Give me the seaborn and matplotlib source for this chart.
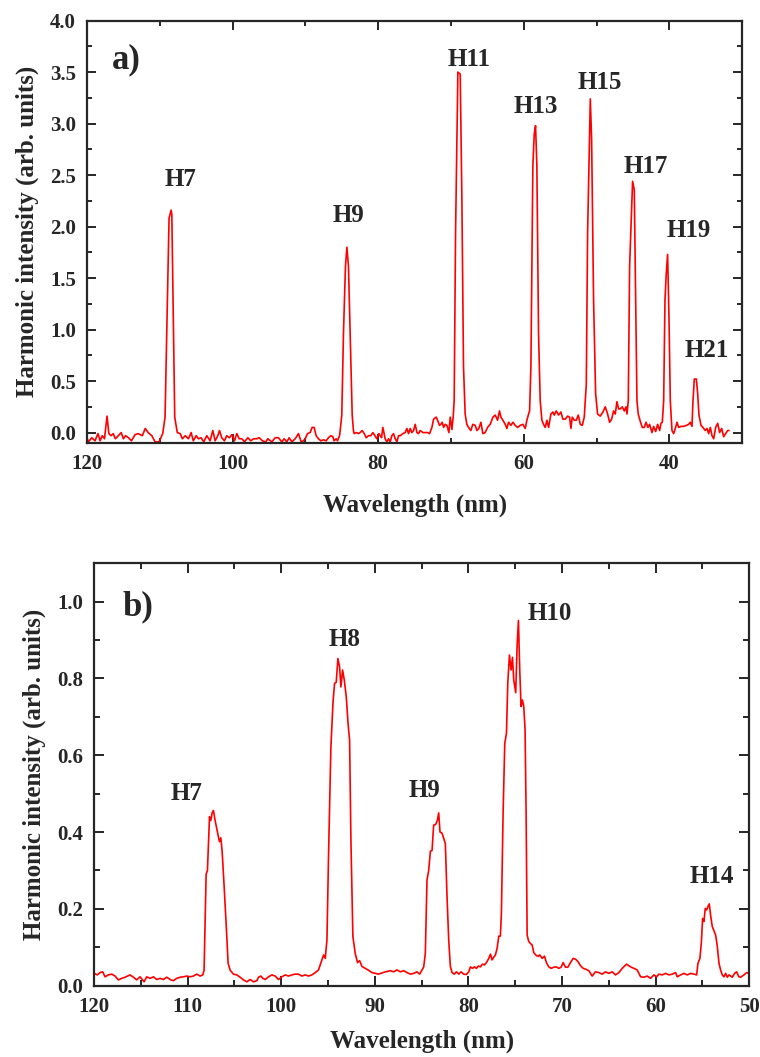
import matplotlib
matplotlib.use('Agg')
import matplotlib.pyplot as plt
from matplotlib.ticker import MultipleLocator
import pandas as pd
import seaborn as sns

# ---- panel a: spectrum 1 (wavelength in nm, intensity in arb. units) ----
wl_a = [120.0, 119.8, 119.35, 118.9, 118.5, 118.2, 117.9, 117.6, 117.25, 117.0,
        116.7, 116.4, 116.1, 115.7, 115.3, 115.0, 114.7, 114.3, 113.9, 113.4,
        113.0, 112.4, 112.0, 111.6, 111.1, 110.65, 110.1, 109.6, 109.28, 108.73,
        108.45, 108.35, 107.95, 107.6, 107.2, 106.9, 106.5, 106.07, 105.7, 105.4,
        105.0, 104.7, 104.33, 103.96, 103.55, 103.09, 102.72, 102.4, 102.03, 101.8,
        101.5, 101.12, 100.8, 100.43, 100.1, 99.74, 99.42, 99.1, 98.74, 98.37,
        97.91, 97.5, 97.13, 96.67, 96.35, 95.9, 95.44, 95.16, 94.61, 94.15,
        93.7, 93.24, 92.92, 92.55, 92.23, 91.86, 91.4, 90.95, 90.58, 90.26,
        90.03, 89.71, 89.35, 89.07, 88.8, 88.52, 88.2, 87.88, 87.51, 87.15,
        86.83, 86.5, 86.23, 86.05, 85.77, 85.59, 85.31, 85.22, 85.0, 84.77,
        84.5, 84.3, 84.08, 83.85, 83.57, 83.4, 83.3, 83.02, 82.7, 82.47,
        82.2, 81.92, 81.65, 81.33, 81.0, 80.73, 80.46, 80.18, 79.91, 79.72,
        79.54, 79.36, 79.04, 78.81, 78.58, 78.35, 78.12, 77.89, 77.66, 77.43,
        77.2, 76.97, 76.61, 76.29, 76.06, 75.83, 75.6, 75.37, 75.14, 74.91,
        74.68, 74.45, 74.23, 73.86, 73.54, 73.22, 72.94, 72.62, 72.39, 72.03,
        71.84, 71.57, 71.39, 71.2, 71.02, 70.79, 70.56, 70.29, 70.1, 69.87,
        69.7, 69.56, 69.37, 69.05, 68.73, 68.5, 68.28, 68.05, 67.82, 67.59,
        67.27, 67.0, 66.67, 66.44, 66.17, 65.89, 65.62, 65.3, 64.98, 64.61,
        64.24, 63.92, 63.6, 63.33, 63.14, 62.87, 62.55, 62.32, 62.09, 61.77,
        61.49, 61.17, 60.85, 60.49, 60.12, 59.8, 59.57, 59.34, 59.2, 59.02,
        58.75, 58.56, 58.38, 58.2, 57.97, 57.74, 57.51, 57.28, 57.05, 56.82,
        56.59, 56.27, 56.0, 55.81, 55.54, 55.22, 54.9, 54.62, 54.3, 53.98,
        53.71, 53.52, 53.34, 53.06, 52.79, 52.51, 52.24, 51.96, 51.69, 51.41,
        51.23, 50.86, 50.68, 50.41, 50.13, 49.86, 49.49, 49.12, 48.8, 48.48,
        48.21, 47.93, 47.66, 47.43, 47.2, 46.97, 46.74, 46.47, 46.19, 45.96,
        45.82, 45.64, 45.46, 45.05, 44.82, 44.63, 44.45, 44.27, 44.0, 43.72,
        43.44, 43.21, 42.94, 42.71, 42.39, 42.16, 41.88, 41.61, 41.33, 41.15,
        40.97, 40.78, 40.6, 40.42, 40.24, 40.05, 39.87, 39.64, 39.41, 39.18,
        38.95, 38.72, 38.4, 38.04, 37.67, 37.35, 37.12, 36.89, 36.75, 36.57,
        36.29, 36.11, 35.93, 35.65, 35.38, 35.06, 34.83, 34.6, 34.37, 34.14,
        33.91, 33.64, 33.36, 33.09, 32.81, 32.54, 32.26, 31.99, 31.8]
int_a = [-0.05, -0.09, -0.05, -0.08, -0.01, -0.08, -0.03, -0.06, 0.16, -0.01,
         -0.03, -0.01, -0.06, -0.03, 0.0, -0.06, -0.03, -0.05, -0.08, -0.02,
         -0.01, -0.03, 0.04, 0.0, -0.03, -0.09, -0.09, -0.01, 0.15, 2.08,
         2.16, 2.12, 0.15, 0.0, -0.01, -0.06, -0.03, -0.06, 0.0, -0.08,
         -0.03, -0.06, -0.05, -0.09, -0.03, -0.08, 0.02, -0.08, -0.03, 0.02,
         -0.05, -0.08, -0.03, -0.05, -0.02, -0.08, -0.01, -0.06, -0.06, -0.09,
         -0.05, -0.08, -0.06, -0.06, -0.05, -0.08, -0.09, -0.06, -0.09, -0.05,
         -0.05, -0.09, -0.06, -0.09, -0.05, -0.09, -0.06, -0.01, -0.09, -0.08,
         -0.06, -0.01, 0.0, 0.05, 0.05, -0.03, -0.06, -0.08, -0.07, -0.08,
         -0.05, -0.03, -0.04, -0.08, -0.06, -0.08, -0.03, 0.02, 0.17, 0.96,
         1.61, 1.8, 1.61, 0.96, 0.17, 0.02, -0.01, 0.0, -0.01, 0.0,
         0.02, -0.01, -0.05, -0.03, -0.03, 0.0, -0.03, -0.06, -0.01, -0.03,
         -0.05, 0.05, -0.06, -0.09, -0.06, -0.09, -0.03, -0.01, -0.06, -0.09,
         -0.03, -0.03, -0.01, 0.0, 0.04, -0.01, 0.04, 0.0, 0.02, 0.08,
         0.0, -0.01, 0.02, 0.0, 0.0, 0.0, -0.01, 0.05, 0.13, 0.15,
         0.12, 0.07, 0.08, 0.1, 0.05, 0.08, 0.07, 0.0, 0.15, 0.03,
         0.15, 0.31, 1.94, 3.5, 3.48, 2.26, 0.64, 0.18, 0.08, 0.05,
         0.02, 0.08, 0.07, 0.02, 0.04, 0.1, -0.01, 0.0, 0.05, 0.08,
         0.15, 0.17, 0.12, 0.21, 0.15, 0.12, 0.08, 0.04, 0.1, 0.07,
         0.1, 0.07, 0.05, 0.07, 0.08, 0.04, 0.12, 0.18, 0.21, 0.64,
         2.59, 2.9, 2.98, 2.59, 0.96, 0.31, 0.12, 0.08, 0.05, 0.12,
         0.05, 0.18, 0.2, 0.17, 0.21, 0.17, 0.2, 0.13, 0.13, 0.16,
         0.15, 0.04, 0.15, 0.12, 0.12, 0.17, 0.08, 0.07, 0.15, 0.47,
         1.94, 3.24, 2.85, 1.29, 0.38, 0.18, 0.16, 0.2, 0.25, 0.18,
         0.1, 0.13, 0.21, 0.18, 0.3, 0.23, 0.23, 0.25, 0.21, 0.25,
         0.18, 0.31, 1.61, 2.44, 2.36, 1.29, 0.31, 0.18, 0.11, 0.05,
         0.05, 0.1, 0.05, 0.08, 0.0, 0.06, 0.01, 0.08, 0.02, 0.09,
         0.1, 0.31, 1.29, 1.55, 1.73, 1.12, 0.31, 0.02, -0.01, 0.04,
         0.1, 0.05, 0.06, 0.06, 0.07, 0.08, 0.1, 0.06, 0.31, 0.52,
         0.52, 0.38, 0.17, 0.07, 0.05, 0.02, 0.04, -0.01, 0.05, -0.03,
         -0.06, 0.05, 0.09, 0.0, 0.04, -0.04, -0.01, 0.02, 0.02]

labels_a = ['H7', 'H9', 'H11', 'H13', 'H15', 'H17', 'H19', 'H21']
label_x_a = [107.2, 84.1, 67.5, 58.4, 49.5, 43.2, 37.4, 34.9]
label_y_a = [2.39, 2.04, 3.56, 3.10, 3.34, 2.52, 1.90, 0.73]

# ---- panel b: spectrum 2 ----
wl_b = [120.0, 119.64, 119.36, 119.07, 118.82, 118.47, 118.11, 117.75, 117.4, 117.04,
        116.68, 116.15, 115.79, 115.44, 115.08, 114.65, 114.37, 114.01, 113.65, 113.3,
        112.94, 112.58, 112.23, 111.8, 111.52, 111.16, 110.8, 110.45, 110.09, 109.73,
        109.38, 109.02, 108.66, 108.38, 108.24, 108.02, 107.88, 107.66, 107.52, 107.38,
        107.24, 107.06, 106.81, 106.6, 106.45, 106.31, 106.1, 105.88, 105.67, 105.45,
        105.1, 104.74, 104.39, 104.03, 103.67, 103.32, 102.96, 102.6, 102.42, 102.17,
        101.96, 101.71, 101.35, 101.0, 100.64, 100.29, 99.93, 99.57, 99.22, 98.86,
        98.5, 98.15, 97.79, 97.43, 97.08, 96.72, 96.36, 96.01, 95.65, 95.47,
        95.29, 95.11, 94.94, 94.69, 94.47, 94.3, 94.12, 93.94, 93.76, 93.62,
        93.44, 93.26, 93.05, 92.83, 92.69, 92.55, 92.34, 92.09, 91.84, 91.62,
        91.37, 91.02, 90.66, 90.3, 89.95, 89.6, 89.0, 88.34, 87.98, 87.63,
        87.27, 86.91, 86.56, 86.2, 85.84, 85.49, 85.2, 84.95, 84.77, 84.6,
        84.42, 84.24, 84.06, 83.88, 83.71, 83.49, 83.31, 83.17, 83.03, 82.81,
        82.64, 82.46, 82.28, 82.1, 81.92, 81.74, 81.5, 81.28, 81.03, 80.78,
        80.5, 80.21, 79.96, 79.78, 79.57, 79.36, 79.14, 78.93, 78.71, 78.5,
        78.29, 78.07, 77.82, 77.64, 77.47, 77.29, 77.11, 76.93, 76.75, 76.58,
        76.47, 76.29, 76.11, 75.93, 75.79, 75.61, 75.43, 75.29, 75.15, 74.94,
        74.79, 74.65, 74.51, 74.37, 74.22, 74.08, 73.94, 73.83, 73.72, 73.55,
        73.37, 73.19, 73.01, 72.8, 72.58, 72.37, 72.12, 71.87, 71.66, 71.41,
        71.16, 70.87, 70.59, 70.34, 70.09, 69.87, 69.62, 69.37, 69.09, 68.8,
        68.55, 68.3, 68.02, 67.73, 67.48, 67.13, 66.77, 66.42, 66.06, 65.7,
        65.35, 64.99, 64.63, 64.28, 63.92, 63.56, 63.1, 62.67, 62.32, 61.96,
        61.6, 61.25, 60.89, 60.53, 60.18, 59.89, 59.64, 59.29, 58.93, 58.57,
        58.22, 57.86, 57.68, 57.32, 56.97, 56.61, 56.26, 55.9, 55.61, 55.47,
        55.26, 55.11, 54.97, 54.83, 54.69, 54.54, 54.4, 54.26, 54.12, 53.94,
        53.76, 53.58, 53.4, 53.22, 53.05, 52.87, 52.69, 52.51, 52.33, 52.15,
        51.98, 51.8, 51.55, 51.34, 51.09, 50.91, 50.55, 50.27, 50.02]
int_b = [0.032, 0.028, 0.034, 0.036, 0.023, 0.028, 0.03, 0.025, 0.015, 0.019,
         0.022, 0.028, 0.022, 0.015, 0.023, 0.01, 0.023, 0.019, 0.023, 0.016,
         0.019, 0.016, 0.022, 0.015, 0.013, 0.019, 0.022, 0.023, 0.025, 0.023,
         0.025, 0.03, 0.025, 0.028, 0.04, 0.29, 0.30, 0.44, 0.43, 0.45,
         0.456, 0.43, 0.40, 0.375, 0.385, 0.35, 0.26, 0.16, 0.058, 0.04,
         0.03, 0.028, 0.022, 0.015, 0.01, 0.016, 0.01, 0.013, 0.022, 0.025,
         0.019, 0.016, 0.023, 0.028, 0.025, 0.016, 0.023, 0.028, 0.025, 0.028,
         0.03, 0.03, 0.025, 0.028, 0.025, 0.028, 0.034, 0.041, 0.067, 0.08,
         0.071, 0.12, 0.34, 0.62, 0.735, 0.787, 0.79, 0.852, 0.83, 0.778,
         0.822, 0.796, 0.753, 0.675, 0.64, 0.38, 0.128, 0.084, 0.06, 0.065,
         0.05, 0.045, 0.04, 0.034, 0.032, 0.03, 0.035, 0.039, 0.036, 0.041,
         0.036, 0.039, 0.034, 0.03, 0.032, 0.036, 0.03, 0.041, 0.049, 0.084,
         0.275, 0.30, 0.35, 0.352, 0.418, 0.42, 0.431, 0.45, 0.40, 0.397,
         0.384, 0.37, 0.232, 0.119, 0.049, 0.034, 0.03, 0.036, 0.03, 0.036,
         0.03, 0.029, 0.036, 0.049, 0.045, 0.049, 0.045, 0.051, 0.049, 0.056,
         0.054, 0.06, 0.071, 0.082, 0.067, 0.074, 0.08, 0.097, 0.129, 0.129,
         0.188, 0.449, 0.631, 0.657, 0.787, 0.861, 0.822, 0.855, 0.796, 0.763,
         0.887, 0.951, 0.822, 0.727, 0.744, 0.727, 0.666, 0.449, 0.132, 0.115,
         0.11, 0.106, 0.086, 0.08, 0.076, 0.08, 0.071, 0.077, 0.06, 0.049,
         0.045, 0.048, 0.049, 0.045, 0.048, 0.06, 0.048, 0.048, 0.06, 0.071,
         0.069, 0.063, 0.052, 0.045, 0.043, 0.039, 0.025, 0.036, 0.034, 0.03,
         0.036, 0.032, 0.036, 0.028, 0.034, 0.045, 0.056, 0.049, 0.045, 0.041,
         0.023, 0.022, 0.025, 0.019, 0.028, 0.023, 0.03, 0.028, 0.032, 0.028,
         0.03, 0.034, 0.023, 0.028, 0.032, 0.028, 0.032, 0.03, 0.028, 0.058,
         0.071, 0.11, 0.175, 0.167, 0.201, 0.197, 0.206, 0.213, 0.184, 0.154,
         0.143, 0.132, 0.102, 0.058, 0.041, 0.028, 0.023, 0.032, 0.022, 0.028,
         0.025, 0.022, 0.032, 0.036, 0.023, 0.022, 0.028, 0.034, 0.032]

labels_b = ['H7', 'H8', 'H9', 'H10', 'H14']
label_x_b = [110.1, 93.2, 84.7, 71.3, 54.0]
label_y_b = [0.484, 0.885, 0.492, 0.951, 0.268]

df_a = pd.DataFrame({'wavelength': wl_a, 'intensity': int_a})
df_b = pd.DataFrame({'wavelength': wl_b, 'intensity': int_b})

sns.set_style('ticks')
plt.rcParams['font.family'] = ['Liberation Serif', 'DejaVu Serif']
plt.rcParams['font.weight'] = 'bold'
plt.rcParams['axes.labelweight'] = 'bold'
plt.rcParams['axes.linewidth'] = 1.6

fig = plt.figure(figsize=(7.6, 10.57), dpi=100)
ax_a = fig.add_axes([0.1145, 0.581, 0.862, 0.3995])
ax_b = fig.add_axes([0.1237, 0.0675, 0.862, 0.3996])


def style_axis(ax, major_len, minor_len, xpad):
    ax.tick_params(which='both', direction='in', top=True, right=True,
                   width=1.4, labelsize=15, pad=8)
    ax.tick_params(which='major', length=major_len)
    ax.tick_params(which='minor', length=minor_len)
    for lab in ax.get_xticklabels() + ax.get_yticklabels():
        lab.set_fontweight('bold')
    ax.set_xlabel('Wavelength (nm)', fontsize=18, fontweight='bold', labelpad=xpad)
    ax.set_ylabel('Harmonic intensity (arb. units)', fontsize=18, fontweight='bold', labelpad=8)


# panel a
sns.lineplot(data=df_a, x='wavelength', y='intensity', ax=ax_a, color='#ff0000',
             linewidth=1.2, sort=False, estimator=None)
ax_a.set_xlim(120, 30)
ax_a.set_ylim(-0.1, 4.0)
ax_a.xaxis.set_major_locator(MultipleLocator(20))
ax_a.xaxis.set_minor_locator(MultipleLocator(10))
ax_a.yaxis.set_major_locator(MultipleLocator(0.5))
ax_a.yaxis.set_minor_locator(MultipleLocator(0.25))
style_axis(ax_a, 6.5, 3.5, 14)
ax_a.text(116.6, 3.62, 'a)', fontsize=25, fontweight='bold', ha='left', va='center')
for lab, x, y in zip(labels_a, label_x_a, label_y_a):
    ax_a.text(x, y, lab, fontsize=18, fontweight='bold', ha='center', va='baseline')

# panel b
sns.lineplot(data=df_b, x='wavelength', y='intensity', ax=ax_b, color='#ff0000',
             linewidth=1.2, sort=False, estimator=None)
ax_b.set_xlim(120, 50)
ax_b.set_ylim(0, 1.1)
ax_b.xaxis.set_major_locator(MultipleLocator(10))
ax_b.xaxis.set_minor_locator(MultipleLocator(5))
ax_b.yaxis.set_major_locator(MultipleLocator(0.2))
ax_b.yaxis.set_minor_locator(MultipleLocator(0.1))
style_axis(ax_b, 7.5, 4.5, 9)
ax_b.text(117.0, 0.987, 'b)', fontsize=25, fontweight='bold', ha='left', va='center')
for lab, x, y in zip(labels_b, label_x_b, label_y_b):
    ax_b.text(x, y, lab, fontsize=18, fontweight='bold', ha='center', va='baseline')

fig.savefig('out.png', dpi=100)
